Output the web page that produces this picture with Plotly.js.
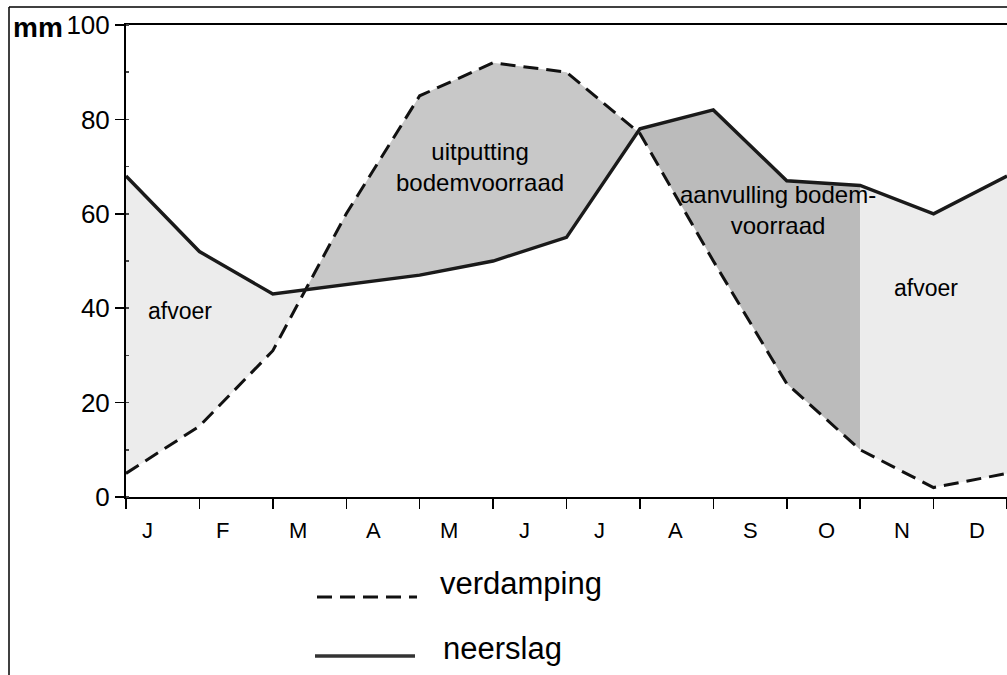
<!DOCTYPE html>
<html><head><meta charset="utf-8">
<script src="https://cdn.plot.ly/plotly-3.0.1.min.js"></script>
<style>html,body{margin:0;padding:0;background:#fff}#chart{width:1007px;height:675px}</style>
</head><body><div id="chart"></div>
<script>
// ---- data ----
const months = ['J','F','M','A','M','J','J','A','S','O','N','D'];
const boundaries = [0,1,2,3,4,5,6,7,8,9,10,11,12];
const neerslag   = [68,52,43,45,47,50,55,78,82,67,66,60,68];
const verdamping = [5,15,31,60,85,92,90,77,50,24,10,2,5];
const yTicks = [0,20,40,60,80,100];
const legendNames = ['verdamping','neerslag'];
const regionTexts = ['afvoer','uitputting<br>bodemvoorraad','aanvulling bodem-<br>voorraad','afvoer'];

// ---- geometry helpers ----
const W = 1007, H = 675;
const L = 126, R = 1007, T = 25, B = 497;
const px = x => (x - L) / (R - L);
const py = y => (B - y) / (B - T);

function interp(arr, x) {
  const i = Math.min(Math.floor(x), arr.length - 2);
  const t = x - i;
  return arr[i] + (arr[i+1] - arr[i]) * t;
}
function segment(arr, a, b) {
  const xs = [a];
  for (const k of boundaries) if (k > a && k < b) xs.push(k);
  xs.push(b);
  return {x: xs, y: xs.map(v => interp(arr, v))};
}
function crossings() {
  const out = [];
  for (let i = 0; i < boundaries.length - 1; i++) {
    const d0 = neerslag[i] - verdamping[i], d1 = neerslag[i+1] - verdamping[i+1];
    if (d0 * d1 < 0) out.push(boundaries[i] + d0 / (d0 - d1));
  }
  return out;
}
const cx = crossings();
const novemberStart = boundaries[10];
const regions = [
  {a: 0, b: cx[0], up: neerslag, lo: verdamping, color: '#ececec'},
  {a: cx[0], b: cx[1], up: verdamping, lo: neerslag, color: '#c8c8c8'},
  {a: cx[1], b: novemberStart, up: neerslag, lo: verdamping, color: '#bbbbbb'},
  {a: novemberStart, b: 12, up: neerslag, lo: verdamping, color: '#ececec'}
];

const traces = regions.map(r => {
  const u = segment(r.up, r.a, r.b), l = segment(r.lo, r.a, r.b);
  return {
    x: u.x.concat(l.x.slice().reverse()),
    y: u.y.concat(l.y.slice().reverse()),
    type: 'scatter', mode: 'lines', fill: 'toself', fillcolor: r.color,
    line: {width: 0}, hoverinfo: 'skip', showlegend: false
  };
});
traces.push({x: boundaries, y: verdamping, type: 'scatter', mode: 'lines', name: legendNames[0],
  line: {color: '#111', width: 3, dash: '15px,8px'}, showlegend: false});
traces.push({x: boundaries, y: neerslag, type: 'scatter', mode: 'lines', name: legendNames[1],
  line: {color: '#1a1a1a', width: 3.4}, showlegend: false});

const font = 'Liberation Sans, Arial, Helvetica, sans-serif';
const annotations = [];
months.forEach((m, i) => annotations.push({
  x: boundaries[i] * 1.028 + 0.286, xref: 'x', y: py(530), yref: 'paper', text: m, showarrow: false,
  font: {family: font, size: 22, color: '#000'}, xanchor: 'center', yanchor: 'middle'
}));
const regionPos = [[180, 311], [480, 167], [778, 210], [926, 288]];
regionTexts.forEach((t, i) => annotations.push({
  x: px(regionPos[i][0]), xref: 'paper', y: py(regionPos[i][1]), yref: 'paper', text: t,
  showarrow: false, font: {family: font, size: i === 0 || i === 3 ? 23 : 24, color: '#000'},
  xanchor: 'center', yanchor: 'middle', align: 'center'
}));
annotations.push({x: px(11), xref: 'paper', y: py(28), yref: 'paper', text: '<b>mm</b>', showarrow: false,
  font: {family: font, size: 28, color: '#000'}, xanchor: 'left', yanchor: 'middle'});
annotations.push({x: px(438), xref: 'paper', y: py(583), yref: 'paper', text: legendNames[0], showarrow: false,
  font: {family: font, size: 31, color: '#000'}, xanchor: 'left', yanchor: 'middle'});
annotations.push({x: px(441), xref: 'paper', y: py(648), yref: 'paper', text: legendNames[1], showarrow: false,
  font: {family: font, size: 31, color: '#000'}, xanchor: 'left', yanchor: 'middle'});

const shapes = [
  // outer frame
  {type: 'line', xref: 'paper', yref: 'paper', x0: px(9), x1: px(1010), y0: py(7), y1: py(7), line: {color: '#000', width: 1.5}},
  {type: 'line', xref: 'paper', yref: 'paper', x0: px(9), x1: px(9), y0: py(7), y1: py(680), line: {color: '#000', width: 1.5}},
  // legend samples
  {type: 'line', xref: 'paper', yref: 'paper', x0: px(317), x1: px(417), y0: py(597), y1: py(597), line: {color: '#111', width: 3, dash: '15px,8px'}},
  {type: 'line', xref: 'paper', yref: 'paper', x0: px(315), x1: px(415), y0: py(656), y1: py(656), line: {color: '#333', width: 3.5}}
];

const layout = {
  width: W, height: H,
  margin: {l: L, r: W - R, t: T, b: H - B, pad: 0},
  paper_bgcolor: '#fff', plot_bgcolor: '#fff',
  showlegend: false,
  font: {family: font, color: '#000'},
  xaxis: {range: [0, 12], tickvals: boundaries, showticklabels: false, ticks: 'outside', ticklen: 10,
    tickwidth: 1.5, tickcolor: '#000', showline: true, linecolor: '#000', linewidth: 2, mirror: true,
    showgrid: false, zeroline: false, fixedrange: true},
  yaxis: {range: [0, 100], tickvals: yTicks, ticks: 'outside', ticklen: 9, tickwidth: 1.5, tickcolor: '#000',
    showline: true, linecolor: '#000', linewidth: 2, showgrid: false, zeroline: false,
    tickfont: {family: font, size: 26, color: '#000'},
    minor: {dtick: 10, ticks: 'inside', ticklen: 3, tickcolor: '#444'}, fixedrange: true},
  annotations, shapes
};
Plotly.newPlot('chart', traces, layout, {staticPlot: true, displayModeBar: false});
</script></body></html>
